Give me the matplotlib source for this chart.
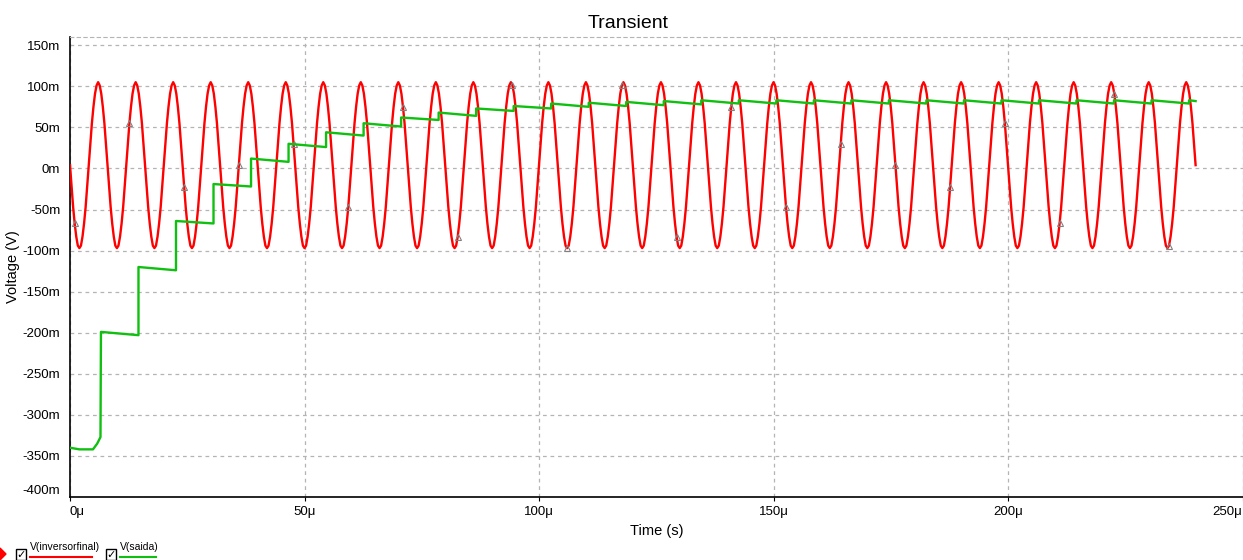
import numpy as np
import matplotlib.pyplot as plt
from matplotlib.patches import Rectangle, Polygon

plt.rcParams['font.family'] = ['Liberation Sans', 'DejaVu Sans']

# V(inversorfinal): one period of the 125 kHz wave, sampled every 1/3 us (mV)
cycle_mv = [4, -22, -47, -67, -83, -94, -97, -94, -83, -67, -47, -22,
            4, 30, 55, 75, 91, 101, 105, 101, 91, 75, 55, 30]
period_us = 8.0
n_cycles = 30

# V(saida): start of the trace, then one step per period (us, mV)
saida_start_t = [0.0, 2.0, 4.9, 5.8, 6.5]
saida_start_v = [-340, -342, -342, -335, -327]
step_t = [6.6, 14.6, 22.6, 30.6, 38.6, 46.6, 54.6, 62.6, 70.6, 78.6,
          86.6, 94.6, 102.6, 110.6, 118.6, 126.6, 134.6, 142.6, 150.6, 158.6,
          166.6, 174.6, 182.6, 190.6, 198.6, 206.6, 214.6, 222.6, 230.6, 238.6]
step_top = [-199, -120, -64, -19, 12, 30, 44, 55, 62, 68,
            73, 76, 79, 80, 81, 82, 83, 83, 83, 83,
            83, 83, 83, 83, 83, 83, 83, 83, 83, 83]
step_low = [-203, -124, -67, -22, 8, 26, 40, 51, 59, 64,
            70, 73, 75, 76, 77, 78, 79, 79, 79, 79,
            79, 79, 79, 79, 79, 79, 79, 79, 79, 82]
t_end = 240.0

# red trace
red_v = np.append(np.tile(cycle_mv, n_cycles), cycle_mv[0])
red_t = np.arange(len(red_v)) * period_us / len(cycle_mv)

# green trace as a polyline of flat-ish segments with vertical jumps
g_t = list(saida_start_t)
g_v = list(saida_start_v)
for i in range(len(step_t)):
    nxt = step_t[i + 1] if i + 1 < len(step_t) else t_end
    g_t += [step_t[i], nxt]
    g_v += [step_top[i], step_low[i]]

fig = plt.figure(figsize=(12.43, 5.6), dpi=100)
ax = fig.add_axes([70 / 1243, 63 / 560, 1172.5 / 1243, 460 / 560])

ax.plot(red_t, red_v, color='#ff0000', lw=1.7, zorder=3,
        marker='^', markevery=(3, 35), markersize=4.5,
        markerfacecolor='none', markeredgecolor='#808080', markeredgewidth=0.8)
ax.plot(g_t, g_v, color='#10c010', lw=1.7, zorder=3)

ax.set_xlim(0, 250)
ax.set_ylim(-400, 160)
ax.set_xticks([0, 50, 100, 150, 200, 250])
ax.set_xticklabels(['0\u03bc', '50\u03bc', '100\u03bc', '150\u03bc', '200\u03bc', '250\u03bc'])
yt = np.arange(-400, 151, 50)
ax.set_yticks(yt)
ax.set_yticklabels(['%dm' % v for v in yt])
ax.tick_params(labelsize=9.5, colors='black')
ax.tick_params(axis='x', length=3)
ax.tick_params(axis='y', length=0, pad=7)
ax.get_xticklabels()[0].set_horizontalalignment('left')
ax.get_xticklabels()[-1].set_horizontalalignment('right')
ax.get_yticklabels()[0].set_verticalalignment('bottom')

ax.grid(True, color='#b4b4b4', ls=(0, (3, 3)), lw=0.9)
ax.spines['right'].set_visible(False)
ax.spines['top'].set_color('#b4b4b4')
ax.spines['top'].set_linestyle((0, (3, 3)))
ax.spines['left'].set_linewidth(1.2)
ax.spines['bottom'].set_linewidth(1.2)

ax.set_xlabel('Time (s)', fontsize=10.5, labelpad=4)
ax.set_ylabel('Voltage (V)', fontsize=10.5, labelpad=2)
fig.text(628 / 1243, 1 - 23 / 560, 'Transient', fontsize=14,
         ha='center', va='center')

# legend strip with check boxes
fig.patches.append(Polygon([[0, 12 / 560], [6 / 1243, 6 / 560], [0, 0]],
                           closed=True, transform=fig.transFigure,
                           color='#ff0000', zorder=5))
for x0, name, col, w in [(16, 'V(inversorfinal)', '#ff0000', 62),
                         (106, 'V(saida)', '#10c010', 36)]:
    fig.patches.append(Rectangle((x0 / 1243, 0), 10 / 1243, 11 / 560,
                                 transform=fig.transFigure, fill=False,
                                 ec='black', lw=1.0))
    fig.text((x0 + 5) / 1243, 5 / 560, '\u2713', fontsize=8, ha='center',
             va='center', family=['DejaVu Sans'], weight='bold')
    fig.text((x0 + 14) / 1243, 8 / 560, name, fontsize=7.5, ha='left',
             va='bottom')
    fig.lines.append(plt.Line2D([(x0 + 14) / 1243, (x0 + 14 + w) / 1243],
                                [3 / 560, 3 / 560], transform=fig.transFigure,
                                color=col, lw=1.5))

fig.savefig('out.png', dpi=100)
